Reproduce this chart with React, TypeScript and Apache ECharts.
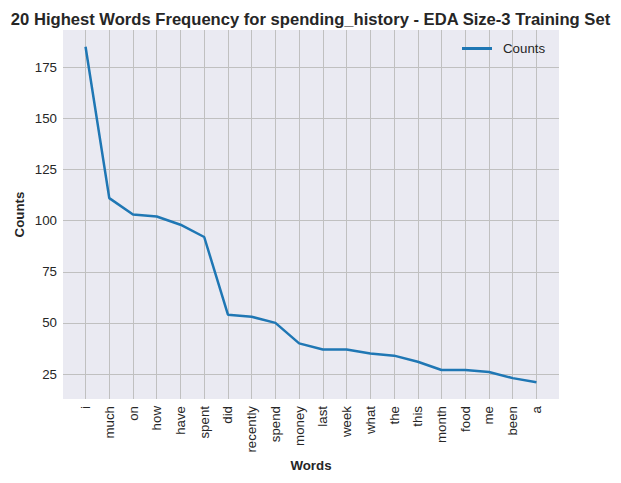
import React, { useEffect, useRef } from "react";
import * as echarts from "echarts";

const words = ["i", "much", "on", "how", "have", "spent", "did", "recently", "spend", "money", "last", "week", "what", "the", "this", "month", "food", "me", "been", "a"];
const counts = [185, 111, 103, 102, 98, 92, 54, 53, 50, 40, 37, 37, 35, 34, 31, 27, 27, 26, 23, 21];
const yTicks = [25, 50, 75, 100, 125, 150, 175];

const FONT = "'Liberation Sans', Arial, sans-serif";
const TEXT = "#262626";

export default function App() {
  const ref = useRef<HTMLDivElement>(null);
  useEffect(() => {
    if (!ref.current) return;
    const chart = echarts.init(ref.current, undefined, { renderer: "svg" });
    const maxV = Math.max(...counts);
    const minV = Math.min(...counts);
    const pad = (maxV - minV) * 0.05;
    const n = words.length;
    const xpad = (n - 1) * 0.05;
    chart.setOption({
      animation: false,
      backgroundColor: "#ffffff",
      title: {
        text: "20 Highest Words Frequency for spending_history - EDA Size-3 Training Set",
        left: "center",
        top: 6,
        textStyle: { fontFamily: FONT, fontSize: 16.6, fontWeight: "bold", color: TEXT },
      },
      legend: {
        data: ["Counts"],
        left: 462,
        top: 42,
        padding: 0,
        icon: "rect",
        itemWidth: 30,
        itemHeight: 3,
        itemGap: 10,
        textStyle: { fontFamily: FONT, fontSize: 13.3, color: TEXT, padding: [0, 0, 0, 6] },
      },
      grid: { left: 63, right: 62, top: 30, bottom: 84, containLabel: false, backgroundColor: "#eaeaf2", show: true, borderWidth: 0 },
      xAxis: {
        type: "value",
        min: -xpad,
        max: n - 1 + xpad,
        minInterval: 1,
        maxInterval: 1,
        name: "Words",
        nameLocation: "middle",
        nameGap: 60,
        nameMoveOverlap: false,
        nameTextStyle: { fontFamily: FONT, fontSize: 13.3, fontWeight: "bold", color: TEXT },
        axisLine: { show: false },
        axisTick: { show: false },
        axisLabel: {
          rotate: 90,
          margin: 7,
          showMinLabel: false,
          showMaxLabel: false,
          fontFamily: FONT,
          fontSize: 13.3,
          color: TEXT,
          formatter: (v: number) => (Math.abs(v - Math.round(v)) < 1e-6 ? words[Math.round(v)] ?? "" : ""),
        },
        splitLine: { show: true, showMinLine: false, showMaxLine: false, lineStyle: { color: "#c0c0c0", width: 1 } },
      },
      yAxis: {
        type: "value",
        min: minV - pad,
        max: maxV + pad,
        minInterval: 25,
        maxInterval: 25,
        name: "Counts",
        nameLocation: "middle",
        nameGap: 37,
        nameMoveOverlap: false,
        nameTextStyle: { fontFamily: FONT, fontSize: 13.3, fontWeight: "bold", color: TEXT },
        axisLine: { show: false },
        axisTick: { show: false },
        axisLabel: {
          margin: 6,
          showMinLabel: false,
          showMaxLabel: false,
          fontFamily: FONT,
          fontSize: 13.3,
          color: TEXT,
          formatter: (v: number) => (yTicks.includes(Math.round(v)) && Math.abs(v - Math.round(v)) < 1e-6 ? String(Math.round(v)) : ""),
        },
        splitLine: { show: true, showMinLine: false, showMaxLine: false, lineStyle: { color: "#c0c0c0", width: 1 } },
      },
      series: [
        {
          name: "Counts",
          type: "line",
          data: counts.map((c, i) => [i, c]),
          symbol: "none",
          showSymbol: false,
          lineStyle: { color: "#1f77b4", width: 2.5 },
          itemStyle: { color: "#1f77b4" },
        },
      ],
    });
    return () => chart.dispose();
  }, []);
  return <div ref={ref} style={{ position: "fixed", left: 0, top: 0, width: 621, height: 483 }} />;
}
